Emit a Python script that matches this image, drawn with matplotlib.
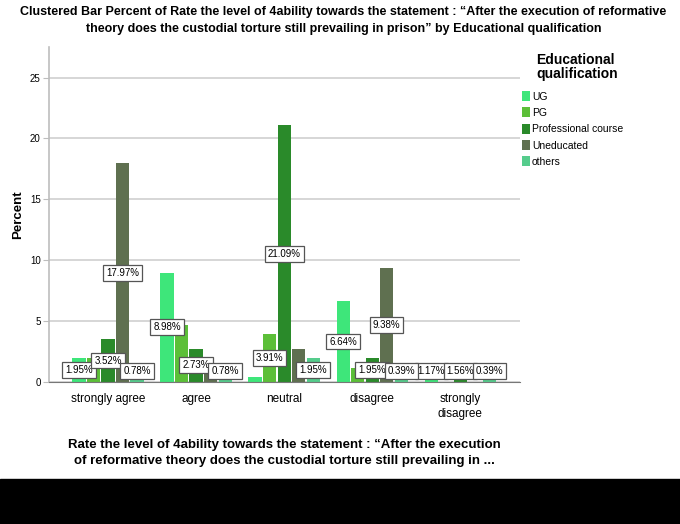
import matplotlib
matplotlib.use("Agg")
import matplotlib.pyplot as plt
import numpy as np
from matplotlib.patches import Rectangle, Patch

plt.rcParams['font.family'] = ['Liberation Sans', 'DejaVu Sans']

# data (percent of respondents)
categories = ["strongly agree", "agree", "neutral", "disagree", "strongly\ndisagree"]
series = ["UG", "PG", "Professional course", "Uneducated", "others"]
ug = [1.95, 8.98, 0.39, 6.64, 1.17]
pg = [1.95, 4.69, 3.91, 1.17, 0.0]
professional = [3.52, 2.73, 21.09, 1.95, 1.56]
uneducated = [17.97, 0.78, 2.73, 9.38, 0.0]
others = [0.78, 0.78, 1.95, 0.39, 0.39]
# which value labels survive the overlap hiding in the original
ug_shown = [True, True, False, True, True]
pg_shown = [False, False, True, False, False]
professional_shown = [True, True, True, True, True]
uneducated_shown = [True, False, False, True, False]
others_shown = [True, True, True, True, True]

values = [ug, pg, professional, uneducated, others]
shown = [ug_shown, pg_shown, professional_shown, uneducated_shown, others_shown]
colors = ["#3ee67a", "#5cbf38", "#2a8a2a", "#5f7050", "#55cc8c"]

fig = plt.figure(figsize=(6.8, 5.24), dpi=100)
ax = fig.add_axes([0.072, 0.271, 0.693, 0.639])

x = np.arange(len(categories))
step = 0.165
width = 0.15
for j, (vals, col) in enumerate(zip(values, colors)):
    xs = x + (j - 2) * step
    ax.bar(xs, vals, width, color=col, edgecolor='none', zorder=2)
    for xi, v, s in zip(xs, vals, shown[j]):
        if s:
            ax.text(xi, max(v / 2, 0.9), f"{v:.2f}%", ha='center', va='center',
                    fontsize=7, zorder=4,
                    bbox=dict(boxstyle='square,pad=0.3', fc='white', ec='#555555', lw=0.9))

ax.set_xlim(-0.67, 4.68)
ax.set_ylim(0, 27.5)
ax.set_yticks([0, 5, 10, 15, 20, 25])
ax.yaxis.grid(True, color='#cfcfcf', lw=1.2, zorder=0)
ax.set_axisbelow(True)
for side in ['top', 'right']:
    ax.spines[side].set_visible(False)
ax.spines['left'].set_color('#bdbdbd')
ax.spines['left'].set_linewidth(1.2)
ax.spines['bottom'].set_color('#777777')
ax.tick_params(axis='y', labelsize=7, length=4, color='#bdbdbd', pad=2)
ax.tick_params(axis='x', length=0, labelsize=8.5, pad=8)
ax.set_xticks(x)
ax.set_xticklabels(categories, linespacing=1.3)
ax.set_ylabel("Percent", fontsize=9.5, fontweight='bold', labelpad=4)
ax.set_xlabel("Rate the level of 4ability towards the statement : \u201cAfter the execution\n"
              "of reformative theory does the custodial torture still prevailing in ...",
              fontsize=9.5, fontweight='bold', labelpad=14, linespacing=1.45)

fig.suptitle("Clustered Bar Percent of Rate the level of 4ability towards the statement : \u201cAfter the execution of reformative\n"
             "theory does the custodial torture still prevailing in prison\u201d by Educational qualification",
             x=0.505, y=0.988, fontsize=9, fontweight='bold', linespacing=1.5)

fig.text(0.789, 0.872, "Educational\nqualification", fontsize=10, fontweight='bold',
         va='center', ha='left', linespacing=1.05)
handles = [Patch(facecolor=c, edgecolor='none') for c in colors]
fig.legend(handles, series, loc='upper left', bbox_to_anchor=(0.761, 0.834),
           frameon=False, fontsize=7.5, handlelength=0.8, handleheight=1.1,
           handletextpad=0.2, labelspacing=0.55, borderaxespad=0)

fig.patches.append(Rectangle((0, 0), 1, 45 / 524, transform=fig.transFigure,
                             color='black', zorder=10))

fig.savefig("out.png", dpi=100)
